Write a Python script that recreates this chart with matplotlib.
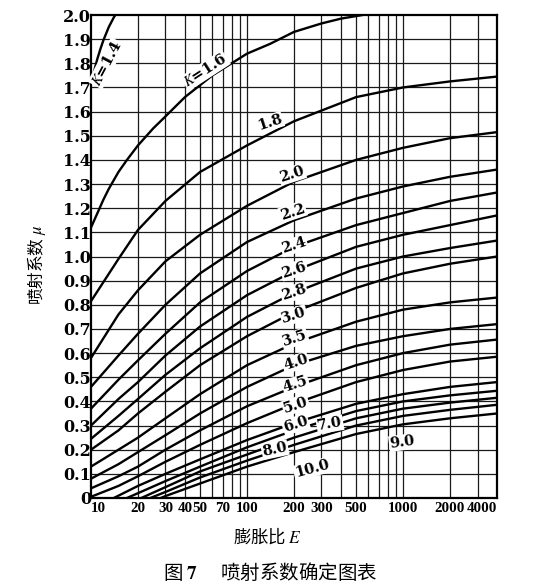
import matplotlib
matplotlib.use("Agg")
import matplotlib.pyplot as plt
from matplotlib.ticker import FixedLocator, NullFormatter

plt.rcParams['mathtext.fontset'] = 'stix'

# expansion ratio E at which the curves were read
E_std = [10, 15, 20, 30, 50, 100, 200, 500, 1000, 2000, 4000]

# injection coefficient mu for each K
E_k14 = [10, 10.5, 11, 11.5, 12, 13, 14, 15]
mu_k14 = [1.72, 1.77, 1.82, 1.86, 1.895, 1.95, 1.99, 2.02]
E_k16 = [10, 11, 12, 13, 15, 17, 20, 25, 30, 40, 60, 100, 140, 200, 300, 400, 550, 600]
mu_k16 = [1.12, 1.18, 1.235, 1.28, 1.35, 1.40, 1.46, 1.53, 1.58, 1.66, 1.75, 1.84, 1.88,
          1.93, 1.965, 1.985, 2.0, 2.005]
mu_k18 = [0.815, 0.99, 1.11, 1.23, 1.35, 1.46, 1.56, 1.66, 1.70, 1.725, 1.745]
mu_k20 = [0.58, 0.76, 0.86, 0.98, 1.09, 1.21, 1.31, 1.40, 1.45, 1.49, 1.515]
mu_k22 = [0.46, 0.59, 0.68, 0.80, 0.93, 1.06, 1.15, 1.24, 1.29, 1.33, 1.36]
mu_k24 = [0.37, 0.49, 0.57, 0.68, 0.81, 0.94, 1.04, 1.13, 1.18, 1.23, 1.265]
mu_k26 = [0.30, 0.41, 0.48, 0.59, 0.71, 0.84, 0.94, 1.04, 1.09, 1.13, 1.17]
mu_k28 = [0.245, 0.34, 0.41, 0.51, 0.62, 0.75, 0.85, 0.95, 1.00, 1.035, 1.066]
mu_k30 = [0.20, 0.28, 0.35, 0.44, 0.55, 0.67, 0.77, 0.87, 0.93, 0.97, 1.0]
mu_k35 = [0.13, 0.20, 0.25, 0.33, 0.43, 0.55, 0.64, 0.73, 0.78, 0.81, 0.83]
mu_k40 = [0.08, 0.14, 0.19, 0.26, 0.35, 0.46, 0.55, 0.63, 0.67, 0.70, 0.72]
mu_k45 = [0.04, 0.09, 0.13, 0.20, 0.28, 0.38, 0.46, 0.55, 0.60, 0.635, 0.656]
mu_k50 = [0.005, 0.05, 0.09, 0.15, 0.22, 0.31, 0.39, 0.48, 0.53, 0.565, 0.585]
E_k60 = [14, 20, 30, 50, 100, 200, 500, 1000, 2000, 4000]
mu_k60 = [0, 0.05, 0.10, 0.16, 0.24, 0.31, 0.39, 0.43, 0.46, 0.48]
E_k70 = [17, 20, 30, 50, 100, 200, 500, 1000, 2000, 4000]
mu_k70 = [0, 0.02, 0.07, 0.13, 0.21, 0.28, 0.36, 0.40, 0.425, 0.444]
E_k80 = [21, 30, 50, 100, 200, 500, 1000, 2000, 4000]
mu_k80 = [0, 0.045, 0.11, 0.18, 0.25, 0.33, 0.37, 0.395, 0.415]
E_k90 = [24, 30, 50, 100, 200, 500, 1000, 2000, 4000]
mu_k90 = [0, 0.025, 0.085, 0.155, 0.22, 0.30, 0.34, 0.365, 0.386]
E_k100 = [28, 30, 50, 100, 200, 500, 1000, 2000, 4000]
mu_k100 = [0, 0.008, 0.06, 0.13, 0.19, 0.265, 0.305, 0.33, 0.35]

curve_labels = ['$K$=1.4', '$K$=1.6', '1.8', '2.0', '2.2', '2.4', '2.6', '2.8', '3.0',
                '3.5', '4.0', '4.5', '5.0', '6.0', '7.0', '8.0', '9.0', '10.0']

x_ticks = [10, 20, 30, 40, 50, 70, 100, 200, 300, 500, 1000, 2000, 4000]
x_grid = [20, 30, 40, 50, 60, 70, 80, 90, 100, 200, 300, 400, 500, 600, 700, 800, 900,
          1000, 2000, 3000]
y_ticks = [i / 10 for i in range(21)]

curves = [(E_k14, mu_k14), (E_k16, mu_k16), (E_std, mu_k18), (E_std, mu_k20),
          (E_std, mu_k22), (E_std, mu_k24), (E_std, mu_k26), (E_std, mu_k28),
          (E_std, mu_k30), (E_std, mu_k35), (E_std, mu_k40), (E_std, mu_k45),
          (E_std, mu_k50), (E_k60, mu_k60), (E_k70, mu_k70), (E_k80, mu_k80),
          (E_k90, mu_k90), (E_k100, mu_k100)]

# where each curve label sits (E, mu, rotation)
label_pos = [(12.6, 1.80, 62), (54, 1.77, 33), (140, 1.555, 18), (194, 1.34, 18),
             (196, 1.185, 18), (200, 1.045, 18), (200, 0.945, 18), (200, 0.85, 18),
             (200, 0.755, 18), (202, 0.66, 18), (205, 0.56, 18), (205, 0.47, 18),
             (205, 0.385, 18), (205, 0.305, 18), (340, 0.305, 10), (151, 0.20, 12),
             (990, 0.23, 8), (260, 0.12, 15)]

fig = plt.figure(figsize=(5.4, 5.88), dpi=100)
ax = fig.add_axes([91 / 540, 1 - 498 / 588, (497 - 91) / 540, (498 - 15) / 588])
ax.set_xscale('log')
ax.set_xlim(10, 4000)
ax.set_ylim(0, 2.0)

ax.xaxis.set_major_locator(FixedLocator(x_ticks))
ax.xaxis.set_minor_locator(FixedLocator(x_grid))
ax.xaxis.set_minor_formatter(NullFormatter())
ax.set_xticklabels([str(v) for v in x_ticks])
ax.set_yticks(y_ticks)
ax.set_yticklabels(['0'] + ['%.1f' % v for v in y_ticks[1:]])
ax.tick_params(which='both', length=0)
ax.tick_params(axis='x', pad=3)
ax.tick_params(axis='y', pad=0)

for v in x_grid:
    ax.axvline(v, color='#1a1a1a', lw=0.9, zorder=1)
for v in y_ticks[1:-1]:
    ax.axhline(v, color='#1a1a1a', lw=0.9, zorder=1)

for sp in ax.spines.values():
    sp.set_linewidth(1.6)

for E, mu in curves:
    ax.plot(E, mu, color='black', lw=1.7, zorder=3, solid_capstyle='butt')

for txt, (ex, my, rot) in zip(curve_labels, label_pos):
    ax.text(ex, my, txt, rotation=rot, ha='center', va='center', fontsize=10.5,
            family='DejaVu Serif', fontweight='bold', zorder=4,
            bbox=dict(fc='white', ec='none', pad=0.6))

for lab in ax.get_yticklabels():
    lab.set_family('DejaVu Serif')
    lab.set_fontweight('bold')
    lab.set_fontsize(11.5)
xl = ax.get_xticklabels()
for lab in xl:
    lab.set_family('Liberation Serif')
    lab.set_fontweight('bold')
    lab.set_fontsize(10.8)
xl[0].set_horizontalalignment('left')
xl[-1].set_horizontalalignment('right')

cjk = ['Noto Sans CJK SC', 'DejaVu Sans']
fig.text(37 / 540, 1 - 265 / 588, '喷射系数 $\\mu$', rotation=90, ha='center', va='center',
         fontsize=12, family=cjk)
fig.text(267 / 540, 1 - 536 / 588, '膨胀比 $E$', ha='center', va='center',
         fontsize=12.5, family=cjk)
fig.text(270 / 540, 1 - 573 / 588, '图 $\\mathbf{7}$\u3000 喷射系数确定图表', ha='center',
         va='center', fontsize=14, family=cjk)

fig.savefig('out.png', dpi=100)
